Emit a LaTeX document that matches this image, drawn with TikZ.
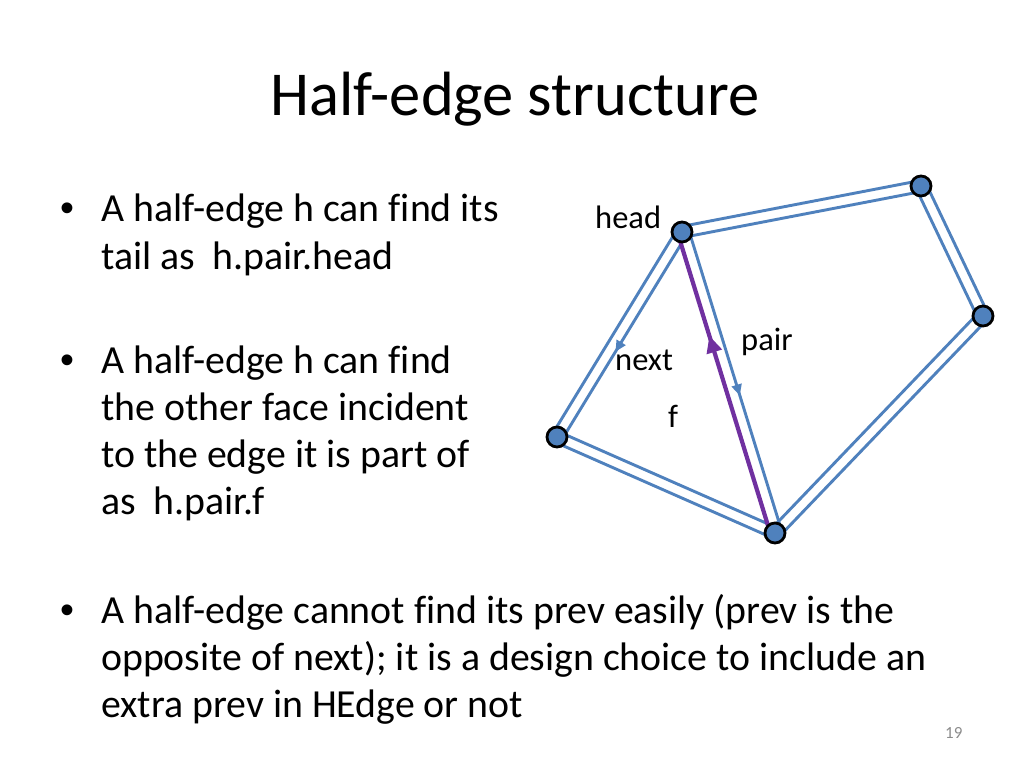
\documentclass[tikz,border=0pt]{standalone}
\usepackage{fontspec}
\setmainfont{Carlito}[Ligatures=NoCommon]
\newfontfamily\bulletfont{Liberation Sans}
\usetikzlibrary{calc,arrows.meta,decorations.markings}
\definecolor{eblue}{HTML}{4F81BD}
\definecolor{epurple}{HTML}{7030A0}
\definecolor{pnum}{HTML}{8C8C8C}
\begin{document}
\begin{tikzpicture}[x=1pt,y=-1pt,
  halfedge/.style={draw=eblue, line width=2.9pt},
  hepurple/.style={draw=epurple, line width=4.2pt},
  vtx/.style={circle, fill=eblue, draw=black, line width=2.8pt, minimum size=20pt, inner sep=0pt},
  body/.style={anchor=base west, inner sep=0pt, font=\fontsize{39.8}{48}\selectfont},
  bul/.style={anchor=base west, inner sep=0pt, font=\bulletfont\fontsize{39.8}{48}\selectfont},
  lbl/.style={anchor=base west, inner sep=0pt, font=\fontsize{32.5}{36}\selectfont},
  title/.style={anchor=base west, inner sep=0pt, font=\fontsize{62.5}{70}\selectfont},
  ]
\useasboundingbox[fill=white] (0,0) rectangle (1024,768);

% title
\node[title] (t) at (270,115) {Half-edge structure};

% bullets
\node[bul] (b1) at (60,221) {•};
\node[body] (l11) at (101,221) {A half-edge h can find its};
\node[body] (l12) at (101,269) {tail as~ h.pair.head};
\node[bul] (b2) at (60,373) {•};
\node[body] (l21) at (101,373) {A half-edge h can find};
\node[body] (l22) at (101,420) {the other face incident};
\node[body] (l23) at (101,467) {to the edge it is part of};
\node[body] (l24) at (101,514) {as~ h.pair.f};
\node[bul] (b3) at (60,623) {•};
\node[body] (l31) at (101,623) {A half-edge cannot find its prev easily (prev is the};
\node[body] (l32) at (101,670) {opposite of next); it is a design choice to include an};
\node[body] (l33) at (101,717) {extra prev in HEdge or not};

\node[anchor=base west, inner sep=0pt, text=pnum, font=\fontsize{17}{20}\selectfont] (pn) at (945,738) {19};

% vertices
\coordinate (H) at (682,232);
\coordinate (TR) at (921,186);
\coordinate (R) at (983,316);
\coordinate (B) at (775,533);
\coordinate (L) at (557,437);

% edges (pairs of half-edges)
\draw[halfedge] ($(H)!5.5pt!90:(TR)$) -- ($(TR)!5.5pt!-90:(H)$);
\draw[halfedge] ($(H)!5.5pt!-90:(TR)$) -- ($(TR)!5.5pt!90:(H)$);
\draw[halfedge] ($(TR)!5.5pt!90:(R)$) -- ($(R)!5.5pt!-90:(TR)$);
\draw[halfedge] ($(TR)!5.5pt!-90:(R)$) -- ($(R)!5.5pt!90:(TR)$);
\draw[halfedge] ($(R)!5.5pt!90:(B)$) -- ($(B)!5.5pt!-90:(R)$);
\draw[halfedge] ($(R)!5.5pt!-90:(B)$) -- ($(B)!5.5pt!90:(R)$);
\draw[halfedge] ($(B)!5.5pt!90:(L)$) -- ($(L)!5.5pt!-90:(B)$);
\draw[halfedge] ($(B)!5.5pt!-90:(L)$) -- ($(L)!5.5pt!90:(B)$);
\draw[halfedge] ($(H)!5.5pt!-90:(L)$) -- ($(L)!5.5pt!90:(H)$);
% next half-edge
\draw[halfedge, postaction={decorate}, decoration={markings, mark=at position 0.57 with {\arrow[eblue]{Triangle[length=11pt,width=10pt]}}}]
  ($(H)!5.5pt!90:(L)$) -- ($(L)!5.5pt!-90:(H)$);
% pair half-edge
\draw[halfedge, postaction={decorate}, decoration={markings, mark=at position 0.55 with {\arrow[eblue]{Triangle[length=11pt,width=10pt]}}}]
  ($(H)!7pt!90:(B)$) -- ($(B)!7pt!-90:(H)$);
% h (purple)
\draw[hepurple, postaction={decorate}, decoration={markings, mark=at position 0.66 with {\arrow[epurple]{Triangle[length=17pt,width=15pt]}}}]
  ($(B)!4.5pt!90:(H)$) -- ($(H)!4.5pt!-90:(B)$);

\node[vtx] (vH) at (H) {};
\node[vtx] (vTR) at (TR) {};
\node[vtx] (vR) at (R) {};
\node[vtx] (vB) at (B) {};
\node[vtx] (vL) at (L) {};

% labels
\node[lbl] (head) at (595,228) {head};
\node[lbl] (pair) at (741,350) {pair};
\node[lbl] (next) at (615,370) {next};
\node[lbl] (f) at (668,427) {f};
\end{tikzpicture}
\end{document}
